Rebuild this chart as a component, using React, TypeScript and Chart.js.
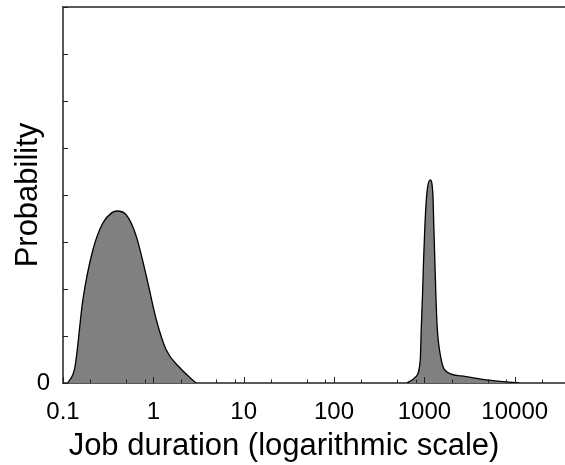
import React, { useEffect, useRef } from 'react';
import { Chart, registerables } from 'chart.js';

Chart.register(...registerables);

// ---- data ----
const X_TICK_LABELS = [0.1, 1, 10, 100, 1000, 10000];
const X_MINOR_TICKS = [0.2, 0.5, 0.8, 2, 5, 8, 20, 50, 80, 200, 500, 800, 2000, 5000, 8000, 20000];
const Y_TICKS = [0, 1, 2, 3, 4, 5, 6, 7, 8];
const X_MIN = 0.1;
const X_MAX = 36000;
const Y_MIN = 0;
const Y_MAX = 8;

const SHORT_JOBS_X = [0.113, 0.1355, 0.166, 0.214, 0.275, 0.345, 0.397, 0.505, 0.65, 0.84, 1.08, 1.39, 1.93, 2.96];
const SHORT_JOBS_Y = [0, 0.34, 1.77, 2.83, 3.4, 3.62, 3.66, 3.57, 3.11, 2.26, 1.34, 0.7, 0.34, 0];

const LONG_JOBS_X = [640, 800, 900, 925, 955, 980, 1012, 1065, 1160, 1240, 1272, 1305, 1338, 1385, 1490, 1690, 2550, 5200, 11200];
const LONG_JOBS_Y = [0, 0.13, 0.49, 1.2, 1.91, 2.62, 3.33, 4.04, 4.32, 4.04, 3.33, 2.62, 1.91, 1.2, 0.63, 0.27, 0.15, 0.06, 0];

const X_TITLE = 'Job duration (logarithmic scale)';
const Y_TITLE = 'Probability';

const FONT_FAMILY = '"Liberation Sans", Arial, Helvetica, sans-serif';
const AXIS_COLOR = '#595959';

const fmt = (v: number) => (v < 1 ? String(v) : String(Math.round(v)));

const decorPlugin = {
  id: 'decor',
  afterDraw(chart: any) {
    const { ctx, chartArea } = chart;
    const xs = chart.scales.x;
    const ys = chart.scales.y;
    ctx.save();
    // top frame line
    ctx.strokeStyle = AXIS_COLOR;
    ctx.lineWidth = 2;
    ctx.beginPath();
    ctx.moveTo(chartArea.left, chartArea.top);
    ctx.lineTo(chartArea.right, chartArea.top);
    ctx.stroke();
    // inward tick marks
    ctx.strokeStyle = '#222';
    ctx.lineWidth = 1;
    const bottom = chartArea.bottom;
    const drawX = (v: number, len: number) => {
      const px = Math.round(xs.getPixelForValue(v)) + 0.5;
      ctx.beginPath();
      ctx.moveTo(px, bottom);
      ctx.lineTo(px, bottom - len);
      ctx.stroke();
    };
    X_TICK_LABELS.forEach((v) => drawX(v, 6));
    X_MINOR_TICKS.forEach((v) => drawX(v, 3.5));
    Y_TICKS.forEach((v) => {
      const py = Math.round(ys.getPixelForValue(v)) + 0.5;
      ctx.beginPath();
      ctx.moveTo(chartArea.left, py);
      ctx.lineTo(chartArea.left + 5, py);
      ctx.stroke();
    });
    // titles
    ctx.fillStyle = '#000';
    ctx.font = `31px ${FONT_FAMILY}`;
    ctx.textAlign = 'center';
    ctx.textBaseline = 'alphabetic';
    ctx.fillText(X_TITLE, 284, 455);
    ctx.translate(37, (chartArea.top + chartArea.bottom) / 2);
    ctx.rotate(-Math.PI / 2);
    ctx.fillText(Y_TITLE, 0, 0);
    ctx.restore();
  },
};

export default function App() {
  const canvasRef = useRef<HTMLCanvasElement | null>(null);

  useEffect(() => {
    if (!canvasRef.current) return;
    const chart = new Chart(canvasRef.current, {
      type: 'line',
      data: {
        datasets: [
          {
            label: 'short',
            data: SHORT_JOBS_X.map((x, i) => ({ x, y: SHORT_JOBS_Y[i] })),
            fill: 'origin',
            backgroundColor: '#808080',
            borderColor: '#000',
            borderWidth: 1.3,
            pointRadius: 0,
            cubicInterpolationMode: 'monotone',
          },
          {
            label: 'long',
            data: LONG_JOBS_X.map((x, i) => ({ x, y: LONG_JOBS_Y[i] })),
            fill: 'origin',
            backgroundColor: '#808080',
            borderColor: '#000',
            borderWidth: 1.3,
            pointRadius: 0,
            cubicInterpolationMode: 'monotone',
          },
        ],
      },
      options: {
        animation: false,
        responsive: false,
        devicePixelRatio: 1,
        layout: { padding: { top: 7, left: 0, right: 0, bottom: 0 } },
        plugins: { legend: { display: false }, tooltip: { enabled: false } },
        scales: {
          x: {
            type: 'logarithmic',
            min: X_MIN,
            max: X_MAX,
            afterBuildTicks: (s: any) => {
              s.ticks = X_TICK_LABELS.map((v) => ({ value: v }));
            },
            afterFit: (s: any) => {
              s.height = 82;
              s.paddingLeft = 0;
              s.paddingRight = 0;
            },
            grid: { display: true, drawOnChartArea: false, drawTicks: false },
            border: { display: true, color: AXIS_COLOR, width: 2 },
            ticks: {
              autoSkip: false,
              maxRotation: 0,
              padding: 15,
              color: '#000',
              font: { family: FONT_FAMILY, size: 24 },
              callback: (v: any) => fmt(Number(v)),
            },
          },
          y: {
            type: 'linear',
            min: Y_MIN,
            max: Y_MAX,
            afterBuildTicks: (s: any) => {
              s.ticks = Y_TICKS.map((v) => ({ value: v }));
            },
            afterFit: (s: any) => {
              s.width = 63;
              s.paddingTop = 0;
              s.paddingBottom = 0;
            },
            grid: { display: true, drawOnChartArea: false, drawTicks: false },
            border: { display: true, color: AXIS_COLOR, width: 2 },
            ticks: {
              padding: 13,
              color: '#000',
              font: { family: FONT_FAMILY, size: 24 },
              callback: (v: any) => (Number(v) === 0 ? '0' : ''),
            },
          },
        },
      },
      plugins: [decorPlugin],
    } as any);
    return () => chart.destroy();
  }, []);

  return (
    <div style={{ position: 'absolute', left: 0, top: 0, width: 565, height: 465, background: '#fff' }}>
      <canvas ref={canvasRef} width={565} height={465} style={{ display: 'block' }} />
    </div>
  );
}
